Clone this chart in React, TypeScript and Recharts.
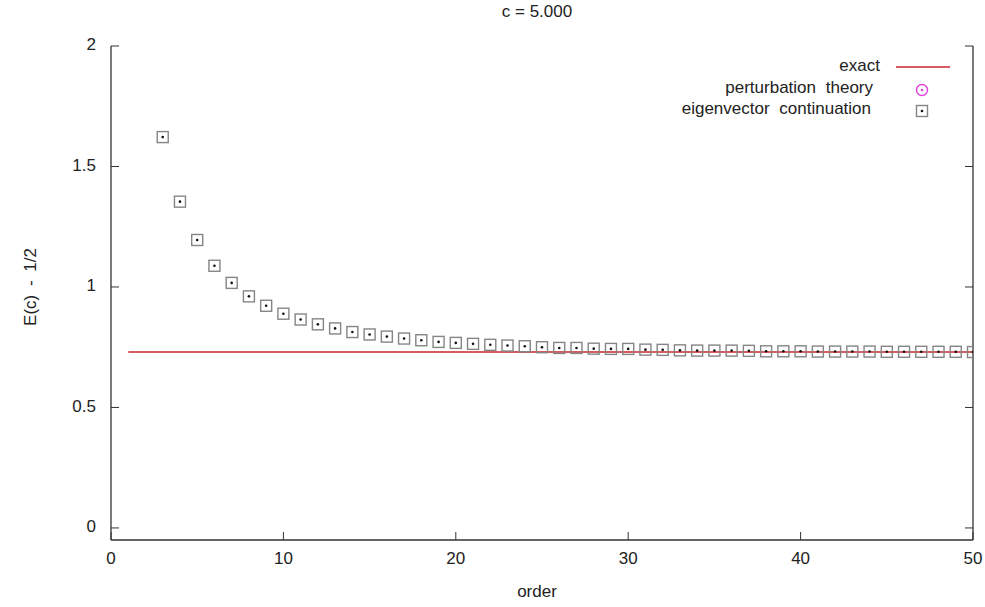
import {
  ComposedChart,
  Line,
  Scatter,
  XAxis,
  YAxis,
} from 'recharts';

const orders = [
  3, 4, 5, 6, 7, 8, 9, 10, 11, 12, 13, 14, 15, 16, 17, 18, 19, 20, 21, 22, 23, 24, 25, 26,
  27, 28, 29, 30, 31, 32, 33, 34, 35, 36, 37, 38, 39, 40, 41, 42, 43, 44, 45, 46, 47, 48, 49, 50,
];
const eigenvectorContinuation = [
  1.622, 1.354, 1.195, 1.088, 1.017, 0.961, 0.922, 0.889, 0.865, 0.845, 0.828, 0.813, 0.803,
  0.794, 0.786, 0.779, 0.772, 0.768, 0.764, 0.76, 0.757, 0.754, 0.75, 0.747, 0.747, 0.744,
  0.743, 0.743, 0.74, 0.739, 0.737, 0.736, 0.736, 0.736, 0.735, 0.733, 0.733, 0.733, 0.732,
  0.732, 0.732, 0.732, 0.731, 0.731, 0.731, 0.731, 0.731, 0.73,
];
// perturbation theory points fall outside the plotted range
const perturbationTheory: { order: number; value: number }[] = [];
const exactOrders = [1, 50];
const exactValue = 0.73;

const xTicks = [0, 10, 20, 30, 40, 50];
const yTicks = [0, 0.5, 1, 1.5, 2];

const evData = orders.map((order, i) => ({ order, value: eigenvectorContinuation[i] }));
const exactData = exactOrders.map((order) => ({ order, exact: exactValue }));

const FONT = '"Liberation Sans", Arial, sans-serif';
const TXT = '#222';
const FRAME = '#333';
const RED = '#c8262c';
const TICK = 8;

const BoxDot = (props: any) => {
  const { cx, cy } = props;
  if (cx == null || cy == null) return null;
  return (
    <g>
      <rect x={cx - 5.5} y={cy - 5.5} width={11} height={11} fill="none" stroke="#858585" strokeWidth={1.4} />
      <circle cx={cx} cy={cy} r={1.3} fill="#111" />
    </g>
  );
};

const CircleDot = (props: any) => {
  const { cx, cy } = props;
  if (cx == null || cy == null) return null;
  return (
    <g>
      <circle cx={cx} cy={cy} r={5.5} fill="none" stroke="#e040e0" strokeWidth={1.4} />
      <circle cx={cx} cy={cy} r={1.3} fill="#e040e0" />
    </g>
  );
};

const BottomTick = (props: any) => {
  const { x, y, payload } = props;
  return (
    <g>
      <line x1={x} x2={x} y1={y} y2={y - TICK} stroke={FRAME} />
      <text x={x} y={y + 20} textAnchor="middle" dominantBaseline="middle" fontSize={17} fontFamily={FONT} fill={TXT}>
        {payload.value}
      </text>
    </g>
  );
};

const TopTick = (props: any) => {
  const { x, y } = props;
  return <line x1={x} x2={x} y1={y} y2={y + TICK} stroke={FRAME} />;
};

const LeftTick = (props: any) => {
  const { x, y, payload } = props;
  return (
    <g>
      <line x1={x} x2={x + TICK} y1={y} y2={y} stroke={FRAME} />
      <text x={x - 15} y={y} textAnchor="end" dominantBaseline="middle" fontSize={17} fontFamily={FONT} fill={TXT}>
        {payload.value}
      </text>
    </g>
  );
};

const RightTick = (props: any) => {
  const { x, y } = props;
  return <line x1={x} x2={x - TICK} y1={y} y2={y} stroke={FRAME} />;
};

const keyText = {
  fontSize: 17,
  fontFamily: FONT,
  fill: TXT,
  textAnchor: 'end' as const,
  dominantBaseline: 'middle' as const,
  style: { wordSpacing: '5px' },
};

export default function App() {
  return (
    <div style={{ position: 'relative', width: 985, height: 607, background: '#fff' }}>
      <style>{'body{margin:0}'}</style>
      <ComposedChart width={985} height={607} margin={{ top: 46, right: 0, bottom: 0, left: 0 }}>
        <text x={537} y={13} textAnchor="middle" dominantBaseline="middle" fontSize={17} fontFamily={FONT} fill={TXT}>
          c = 5.000
        </text>
        <text
          x={32}
          y={287}
          transform="rotate(-90 32 287)"
          textAnchor="middle"
          dominantBaseline="middle"
          fontSize={17}
          fontFamily={FONT}
          fill={TXT}
          style={{ wordSpacing: '4px' }}
        >
          E(c) - 1/2
        </text>
        <text x={537} y={593} textAnchor="middle" dominantBaseline="middle" fontSize={17} fontFamily={FONT} fill={TXT}>
          order
        </text>
        {/* key */}
        <text x={880} y={67} {...keyText}>exact</text>
        <line x1={896} x2={950} y1={67} y2={67} stroke={RED} strokeWidth={1.4} />
        <text x={873} y={89} {...keyText}>perturbation theory</text>
        <CircleDot cx={922} cy={90} />
        <text x={871} y={110} {...keyText}>eigenvector continuation</text>
        <BoxDot cx={922} cy={111} />
        <XAxis
          xAxisId="b"
          dataKey="order"
          type="number"
          domain={[0, 50]}
          ticks={xTicks}
          interval={0}
          allowDataOverflow
          height={67}
          tickSize={0}
          tickMargin={0}
          tickLine={false}
          axisLine={{ stroke: FRAME, strokeWidth: 1.3 }}
          tick={<BottomTick />}
        />
        <XAxis
          xAxisId="t"
          orientation="top"
          dataKey="order"
          type="number"
          domain={[0, 50]}
          ticks={xTicks}
          interval={0}
          allowDataOverflow
          height={0}
          tickSize={0}
          tickMargin={0}
          tickLine={false}
          axisLine={{ stroke: FRAME, strokeWidth: 1.3 }}
          tick={<TopTick />}
        />
        <YAxis
          yAxisId="l"
          type="number"
          domain={[-0.05, 2]}
          ticks={yTicks}
          interval={0}
          allowDataOverflow
          width={111}
          tickSize={0}
          tickMargin={0}
          tickLine={false}
          axisLine={{ stroke: FRAME, strokeWidth: 1.3 }}
          tick={<LeftTick />}
        />
        <YAxis
          yAxisId="r"
          orientation="right"
          type="number"
          domain={[-0.05, 2]}
          ticks={yTicks}
          interval={0}
          allowDataOverflow
          width={12}
          tickSize={0}
          tickMargin={0}
          tickLine={false}
          axisLine={{ stroke: FRAME, strokeWidth: 1.3 }}
          tick={<RightTick />}
        />
        <Line
          xAxisId="b"
          yAxisId="l"
          data={exactData}
          dataKey="exact"
          name="exact"
          stroke={RED}
          strokeWidth={1.4}
          dot={false}
          activeDot={false}
          isAnimationActive={false}
        />
        <Scatter
          xAxisId="b"
          yAxisId="l"
          data={perturbationTheory}
          dataKey="value"
          name="perturbation theory"
          shape={<CircleDot />}
          isAnimationActive={false}
        />
        <Scatter
          xAxisId="b"
          yAxisId="l"
          data={evData}
          dataKey="value"
          name="eigenvector continuation"
          shape={<BoxDot />}
          isAnimationActive={false}
        />
      </ComposedChart>
    </div>
  );
}
